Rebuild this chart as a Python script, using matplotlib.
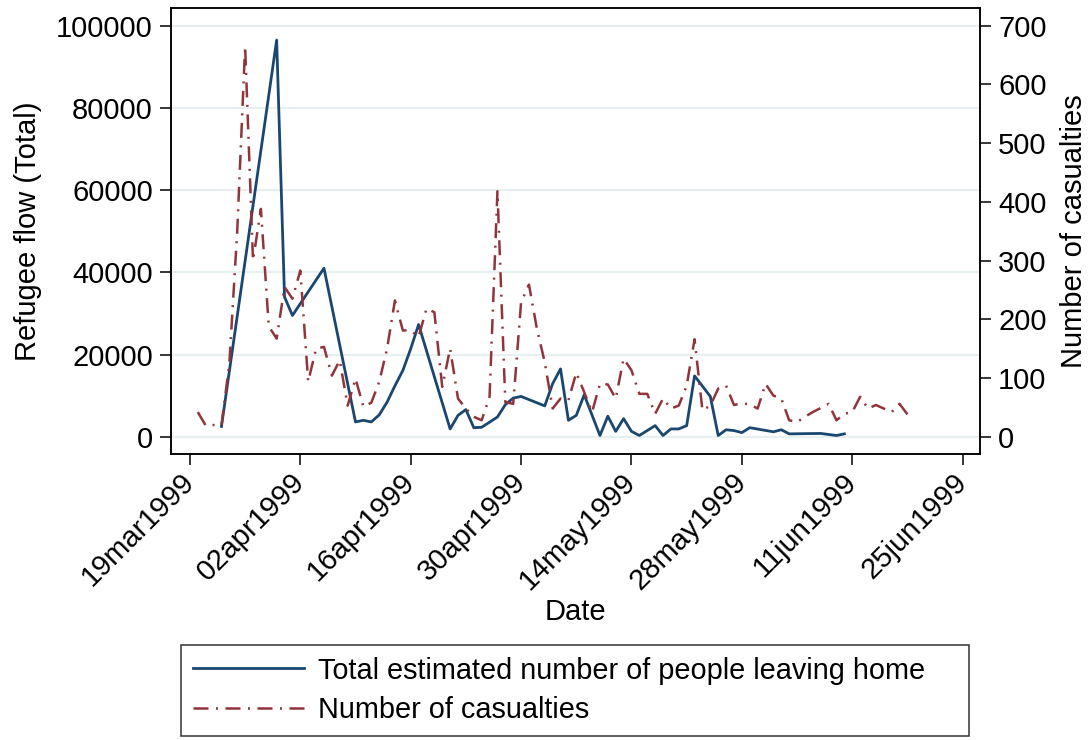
import pandas as pd
import matplotlib
matplotlib.use("Agg")
import matplotlib.pyplot as plt

plt.rcParams['font.family'] = ['Liberation Sans', 'DejaVu Sans']

# refugee flow (left axis), only the days that have a value
refugee_dates = [
    "1999-03-23", "1999-03-30", "1999-03-31", "1999-04-01", "1999-04-05",
    "1999-04-09", "1999-04-10", "1999-04-11", "1999-04-12", "1999-04-13",
    "1999-04-14", "1999-04-15", "1999-04-16", "1999-04-17", "1999-04-21",
    "1999-04-22", "1999-04-23", "1999-04-24", "1999-04-25", "1999-04-27",
    "1999-04-28", "1999-04-29", "1999-04-30", "1999-05-03", "1999-05-04",
    "1999-05-05", "1999-05-06", "1999-05-07", "1999-05-08", "1999-05-10",
    "1999-05-11", "1999-05-12", "1999-05-13", "1999-05-14", "1999-05-15",
    "1999-05-17", "1999-05-18", "1999-05-19", "1999-05-20", "1999-05-21",
    "1999-05-22", "1999-05-24", "1999-05-25", "1999-05-26", "1999-05-27",
    "1999-05-28", "1999-05-29", "1999-06-01", "1999-06-02", "1999-06-03",
    "1999-06-07", "1999-06-09", "1999-06-10",
]
refugee_flow = [
    2500, 96500, 34000, 29500, 41000,
    3600, 4000, 3600, 5300, 8400,
    12400, 16100, 21400, 27300, 1900,
    5200, 6600, 2200, 2300, 4800,
    7800, 9400, 9800, 7500, 12900,
    16500, 4000, 5200, 10200, 300,
    5000, 1300, 4400, 1300, 300,
    2700, 300, 1900, 1900, 2700,
    14800, 9800, 300, 1700, 1500,
    1000, 2200, 1200, 1700, 700,
    800, 300, 700,
]

# casualties (right axis), one value per day from 20mar1999
casualty_start = "1999-03-20"
casualties = [
    42, 19, 20, 19, 125, 350, 665, 300, 388, 188,
    167, 255, 235, 283, 94, 150, 153, 104, 130, 53,
    99, 51, 58, 93, 150, 232, 181, 181, 170, 218,
    212, 85, 150, 65, 48, 34, 28, 68, 418, 59,
    56, 229, 259, 184, 127, 48, 65, 62, 109, 76,
    42, 90, 89, 65, 133, 113, 73, 73, 39, 65,
    48, 53, 87, 166, 45, 53, 82, 87, 54, 57,
    55, 48, 90, 70, 65, 28, 25, 34, 42, 49,
    56, 28, 39, 42, 68, 48, 54, 48, 42, 56, 38,
]

tick_dates = ["1999-03-19", "1999-04-02", "1999-04-16", "1999-04-30",
              "1999-05-14", "1999-05-28", "1999-06-11", "1999-06-25"]
left_ticks = [0, 20000, 40000, 60000, 80000, 100000]
right_ticks = [0, 100, 200, 300, 400, 500, 600, 700]

navy = "#1a476f"
maroon = "#90353b"

fig = plt.figure(figsize=(10.91, 7.4), dpi=100)
ax = fig.add_axes([171 / 1091, 1 - 454 / 740, 809 / 1091, 446 / 740])
ax2 = ax.twinx()

l1, = ax.plot(pd.to_datetime(refugee_dates), refugee_flow, color=navy, lw=2.0)
cas_dates = pd.date_range(casualty_start, periods=len(casualties), freq="D")
l2, = ax2.plot(cas_dates, casualties, color=maroon, lw=1.8,
               linestyle=(0, (6, 3, 0.8, 3)))

t0 = pd.Timestamp(tick_dates[0])
ax.set_xlim(t0 - pd.Timedelta(days=2.4), t0 + pd.Timedelta(days=100.2))
ax.set_ylim(-4200, 104300)
ax2.set_ylim(-29.4, 730)

ax.set_yticks(left_ticks)
ax.set_yticklabels([str(v) for v in left_ticks])
ax2.set_yticks(right_ticks)
ax2.set_yticklabels([str(v) for v in right_ticks])

xt = pd.to_datetime(tick_dates)
ax.set_xticks(xt)
ax.set_xticklabels([d.strftime("%d%b%Y").lower() for d in xt],
                   rotation=45, ha="right", va="center", rotation_mode="anchor")

for a in (ax, ax2):
    a.tick_params(length=8, width=1.1, labelsize=21, pad=5, direction="out")
    for s in a.spines.values():
        s.set_linewidth(1.1)
        s.set_color("black")
ax.tick_params(axis="x", pad=9)

ax.yaxis.grid(True, color="#e8eff1", lw=1.6)
ax.set_axisbelow(True)

ax.set_ylabel("Refugee flow (Total)", fontsize=21)
ax.yaxis.set_label_coords((42 - 171) / 809, 0.5)
ax2.set_ylabel("Number of casualties", fontsize=21)
ax2.yaxis.set_label_coords((1060 - 171) / 809, 0.5)
ax.set_xlabel("Date", fontsize=21)
ax.xaxis.set_label_coords(0.5, (454 - 598) / 446)

leg = fig.legend([l1, l2],
                 ["Total estimated number of people leaving home",
                  "Number of casualties"],
                 loc="upper left",
                 bbox_to_anchor=(181 / 1091, 1 - 737 / 740, 788 / 1091, 92 / 740),
                 mode="expand", borderaxespad=0, fontsize=20.8,
                 handlelength=3.85, handletextpad=0.5, labelspacing=0.4,
                 borderpad=0.4, fancybox=False, frameon=True)
leg.get_frame().set_edgecolor("black")
leg.get_frame().set_linewidth(1.1)

fig.savefig("out.png", dpi=100)
